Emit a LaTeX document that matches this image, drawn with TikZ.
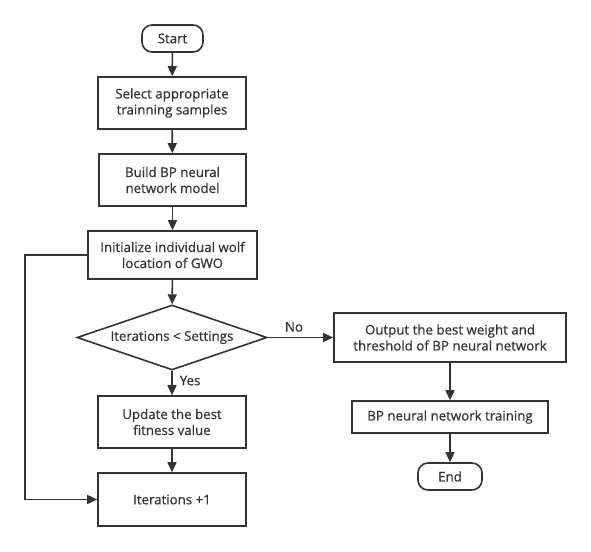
\documentclass[tikz,border=0pt]{standalone}
\usepackage{fontspec}
\setmainfont{Open Sans}
\newfontface\nodefont{Open Sans}[FakeBold=0.6]
\usetikzlibrary{shapes.geometric,arrows.meta}
\definecolor{ink}{HTML}{333333}

\begin{document}
\begin{tikzpicture}[x=1pt,y=-1pt,
    every node/.style={text=ink,font=\nodefont\fontsize{13.3}{16}\selectfont,align=center,inner sep=0pt},
    procbox/.style={draw=ink,line width=1.6pt,minimum width=#1},
    termbox/.style={draw=ink,line width=1.6pt,rounded corners=10pt,minimum height=27pt},
    decbox/.style={draw=ink,line width=1.6pt,diamond,aspect=2.9,minimum width=190pt,minimum height=65pt},
    flow/.style={draw=ink,line width=1.6pt,-{Triangle[length=10pt,width=9pt]}}]
  \useasboundingbox (0,0) rectangle (591,551);
  % main column
  \node[termbox,minimum width=61pt] (start) at (172.5,38.5) {Start};
  \node[procbox=148pt,minimum height=52pt] (sel) at (172,103) {Select appropriate\\trainning samples};
  \node[procbox=147pt,minimum height=52pt] (bld) at (172.5,180) {Build BP neural\\network model};
  \node[procbox=169pt,minimum height=48pt] (ini) at (172.5,255) {Initialize individual wolf\\location of GWO};
  \node[decbox] (dec) at (172,337.5) {Iterations < Settings};
  \node[procbox=148pt,minimum height=52pt] (upd) at (172,422) {Update the best\\fitness value};
  \node[procbox=148pt,minimum height=53pt] (inc) at (172,499.5) {Iterations +1};
  % right column
  \node[procbox=232pt,minimum height=49pt] (out) at (450,337.5) {Output the best weight and\\threshold of BP neural network};
  \node[procbox=196pt,minimum height=32pt] (trn) at (450,417) {BP neural network training};
  \node[termbox,minimum width=64pt] (end) at (450,476.5) {End};
  \coordinate (lt) at (25,255);
  \coordinate (lb) at (25,499.5);

  \draw[flow] (start) -- (sel);
  \draw[flow] (sel) -- (bld);
  \draw[flow] (bld) -- (ini);
  \draw[flow] (ini) -- (dec);
  \draw[flow] (dec) -- node[right=7pt,pos=0.4]{Yes} (upd);
  \draw[flow] (upd) -- (inc);
  \draw[flow] (dec.east) -- node[above=5pt,pos=0.4]{No} (out.west);
  \draw[flow] (out) -- (trn);
  \draw[flow] (trn) -- (end);
  \draw[flow] (ini.west) -- (lt) -- (lb) -- (inc.west);
\end{tikzpicture}
\end{document}
